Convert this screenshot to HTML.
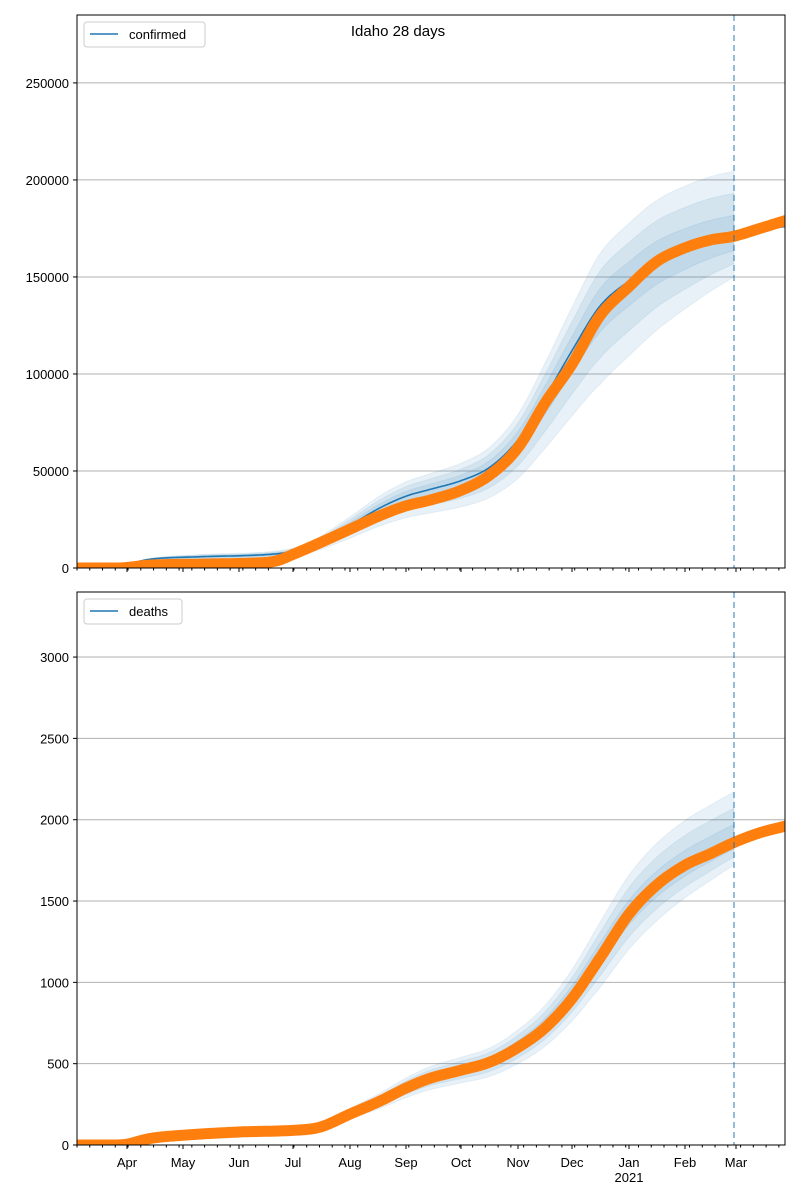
<!DOCTYPE html>
<html><head><meta charset="utf-8"><style>
body{margin:0;background:#fff;}
svg{display:block;font-family:"Liberation Sans",sans-serif;}
</style></head><body>
<svg id="s" width="800" height="1200" xmlns="http://www.w3.org/2000/svg"></svg>
<script>
const S=document.getElementById('s');
let h='';
const X0=77,X1=785;
function interp(p,x){
  if(x<=p[0][0])return p[0][1];
  for(let i=1;i<p.length;i++){if(x<=p[i][0]){
    const a=p[i-1],b=p[i];const t=(x-a[0])/(b[0]-a[0]);const dx=b[0]-a[0];
    const pa=p[Math.max(0,i-2)],pb=p[Math.min(p.length-1,i+1)];
    let m0=(b[1]-pa[1])/(b[0]-pa[0]),m1=(pb[1]-a[1])/(pb[0]-a[0]);
    if(a[1]===b[1]){m0=0;m1=0;}
    const t2=t*t,t3=t2*t;
    return (2*t3-3*t2+1)*a[1]+(t3-2*t2+t)*dx*m0+(-2*t3+3*t2)*b[1]+(t3-t2)*dx*m1;}}
  return p[p.length-1][1];}
let cid=0;
function panel(top,bot,vmax,ticks,orange,blue,ua,laf,label,legW){
  const Y=v=>bot-(v/vmax)*(bot-top);
  cid++;
  h+=`<defs><clipPath id="c${cid}"><rect x="${X0}" y="${top}" width="${X1-X0}" height="${bot-top}"/></clipPath></defs>`;
  ticks.forEach(t=>{const y=Y(t);if(t>0)h+=`<line x1="${X0}" x2="${X1}" y1="${y}" y2="${y}" stroke="#b0b0b0" stroke-width="1"/>`;
    h+=`<line x1="${X0-4}" x2="${X0}" y1="${y}" y2="${y}" stroke="#000"/><text x="${X0-8}" y="${y+5}" font-size="13" text-anchor="end">${t}</text>`;});
  h+=`<g clip-path="url(#c${cid})">`;
  for(let k=3;k>=1;k--){
    let up=[],lo=[];
    for(let x=100;x<=734;x+=2){const v=interp(blue,x);const f=Math.min(1,(x-100)/100);up.push([x,Y(v*(1+ua*k/3*f))]);lo.push([x,Y(v*(1-laf(x)*k/3*f))]);}
    const pts=up.concat(lo.reverse()).map(p=>p[0]+','+p[1].toFixed(1)).join(' ');
    h+=`<polygon points="${pts}" fill="#1f77b4" fill-opacity="0.1" stroke="#1f77b4" stroke-opacity="0.08"/>`;
  }
  let bp=[];for(let x=X0;x<=X1;x+=1)bp.push(x+','+Y(interp(blue,x)).toFixed(1));
  h+=`<polyline points="${bp.join(' ')}" fill="none" stroke="#1f77b4" stroke-width="1.6"/>`;
  let op=[];for(let x=X0-4;x<=X1+4;x+=1)op.push(x+','+Y(interp(orange,x)).toFixed(1));
  h+=`<polyline points="${op.join(' ')}" fill="none" stroke="#ff7f0e" stroke-width="11" stroke-linejoin="round" stroke-linecap="round"/>`;
  h+=`</g>`;
  h+=`<line x1="734" x2="734" y1="${top}" y2="${bot}" stroke="#1f77b4" stroke-opacity="0.6" stroke-width="1.6" stroke-dasharray="6,4"/>`;
  h+=`<rect x="${X0}" y="${top}" width="${X1-X0}" height="${bot-top}" fill="none" stroke="#000" stroke-width="1"/>`;
  for(let d=0;d<=388;d+=7){const x=X0+d*1.823;h+=`<line x1="${x}" x2="${x}" y1="${bot}" y2="${bot+2.5}" stroke="#000"/>`;}
  [127,183,239,293,350,406,461,518,572,629,685,736].forEach(x=>h+=`<line x1="${x}" x2="${x}" y1="${bot}" y2="${bot+4}" stroke="#000"/>`);
  h+=`<rect x="84" y="${top+7}" width="${legW}" height="25" rx="3" fill="#fff" stroke="#ccc"/><line x1="90" x2="118" y1="${top+19}" y2="${top+19}" stroke="#1f77b4" stroke-width="1.6"/><text x="129" y="${top+24}" font-size="13">${label}</text>`;
}
const oc=[[77,0],[120,0],[150,1500],[200,2000],[250,2500],[275,3500],[293,7000],[320,13000],[350,20000],[380,27000],[406,32000],[430,35000],[461,40000],[490,48000],[518,62000],[545,85000],[572,105000],[600,130000],[629,145000],[657,158000],[685,165000],[710,169000],[734,171000],[760,175000],[785,179000]];
const bc=[[77,0],[110,0],[150,4500],[200,5800],[250,6500],[280,7500],[300,9500],[320,13500],[350,22000],[380,31000],[406,37000],[430,40500],[461,45000],[490,52000],[518,66000],[545,88000],[572,112000],[600,135000],[629,148000],[657,158000],[685,164000],[710,168000],[734,170500],[760,174000],[785,176000]];
const lac=x=>x<600?0.3:0.3-(x-600)/134*0.18;
panel(15,568,285000,[0,50000,100000,150000,200000,250000],oc,bc,0.2,lac,'confirmed',121);
const od=[[77,0],[115,0],[127,5],[150,40],[183,60],[239,80],[293,90],[320,110],[350,190],[380,270],[406,350],[430,410],[461,460],[490,510],[518,600],[545,720],[572,900],[600,1150],[629,1420],[657,1600],[685,1720],[710,1790],[734,1860],[760,1920],[785,1960]];
const bd=[[77,0],[115,0],[127,5],[150,40],[183,60],[239,80],[293,90],[320,110],[350,195],[380,275],[406,355],[430,415],[461,465],[490,515],[518,610],[545,740],[572,930],[600,1180],[629,1430],[657,1600],[685,1720],[710,1800],[734,1870],[760,1920],[785,1960]];
const lad=x=>x<600?0.18:0.18-(x-600)/134*0.1;
panel(592,1145,3400,[0,500,1000,1500,2000,2500,3000],od,bd,0.16,lad,'deaths',98);
const ml=[['Apr',127],['May',183],['Jun',239],['Jul',293],['Aug',350],['Sep',406],['Oct',461],['Nov',518],['Dec',572],['Jan',629],['Feb',685],['Mar',736]];
ml.forEach(m=>h+=`<text x="${m[1]}" y="1167" font-size="13" text-anchor="middle">${m[0]}</text>`);
h+=`<text x="629" y="1182" font-size="13" text-anchor="middle">2021</text>`;
h+=`<text x="398" y="36" font-size="15" text-anchor="middle">Idaho 28 days</text>`;
S.innerHTML=h;
</script>
</body></html>
